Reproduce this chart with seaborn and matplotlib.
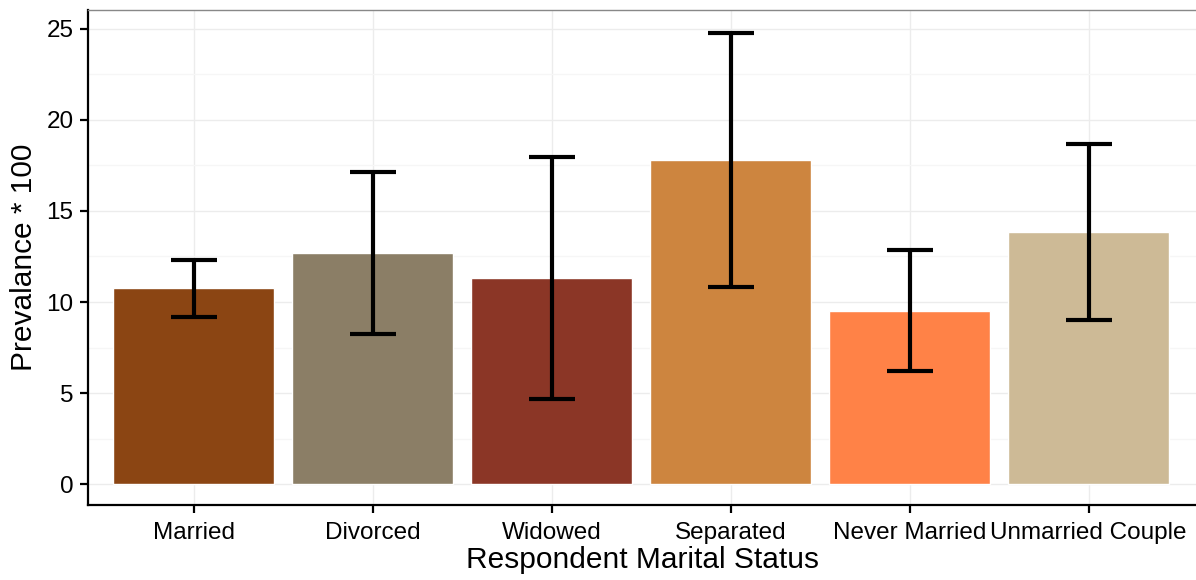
import seaborn as sns
import matplotlib.pyplot as plt
import pandas as pd

status = ["Married", "Divorced", "Widowed", "Separated", "Never Married", "Unmarried Couple"]
prevalence = [10.75, 12.7, 11.3, 17.8, 9.5, 13.85]
lower = [9.2, 8.25, 4.65, 10.8, 6.2, 9.0]
upper = [12.3, 17.15, 17.95, 24.8, 12.85, 18.7]
colors = ["#8B4513", "#8B7E66", "#8B3626", "#CD853F", "#FF8247", "#CDBA96"]

df = pd.DataFrame({"status": status, "prev": prevalence})

sns.set_style("white")
plt.rcParams["font.family"] = ["Liberation Sans", "DejaVu Sans"]
plt.rcParams["text.color"] = "black"
plt.rcParams["axes.labelcolor"] = "black"

fig = plt.figure(figsize=(11.96, 5.8), dpi=100)
ax = fig.add_axes([0.0736, 0.1293, 0.9264, 0.8535])

sns.barplot(data=df, x="status", y="prev", hue="status", palette=colors,
            legend=False, width=0.9, saturation=1, ax=ax, zorder=2)

yerr = [[p - l for p, l in zip(prevalence, lower)],
        [u - p for p, u in zip(prevalence, upper)]]
ax.errorbar(range(len(status)), prevalence, yerr=yerr, fmt="none",
            ecolor="black", elinewidth=3, capsize=16.5, capthick=3, zorder=3)

ax.set_xlim(-0.59, 5.6)
ax.set_ylim(-1.15, 26.04)
ax.set_yticks([0, 5, 10, 15, 20, 25])
ax.set_yticks([2.5, 7.5, 12.5, 17.5, 22.5], minor=True)
ax.grid(True, which="major", color="#ececec", linewidth=1.0, zorder=0)
ax.grid(True, which="minor", axis="y", color="#f6f6f6", linewidth=1.0, zorder=0)
ax.set_axisbelow(True)

for s in ["left", "bottom"]:
    ax.spines[s].set_color("black")
    ax.spines[s].set_linewidth(1.6)
ax.spines["top"].set_color("#888888")
ax.spines["top"].set_linewidth(1.0)
ax.spines["right"].set_visible(False)

ax.tick_params(axis="both", which="major", length=5.5, width=1.6, color="black",
               labelsize=17.5, labelcolor="black", pad=5, left=True, bottom=True)
ax.tick_params(axis="x", pad=7)
ax.tick_params(which="minor", length=0)

ax.set_xlabel("Respondent Marital Status", fontsize=21.5, labelpad=1, color="black")
ax.set_ylabel("Prevalance * 100", fontsize=21.5, labelpad=6, color="black")

fig.savefig("out.png", dpi=100)
